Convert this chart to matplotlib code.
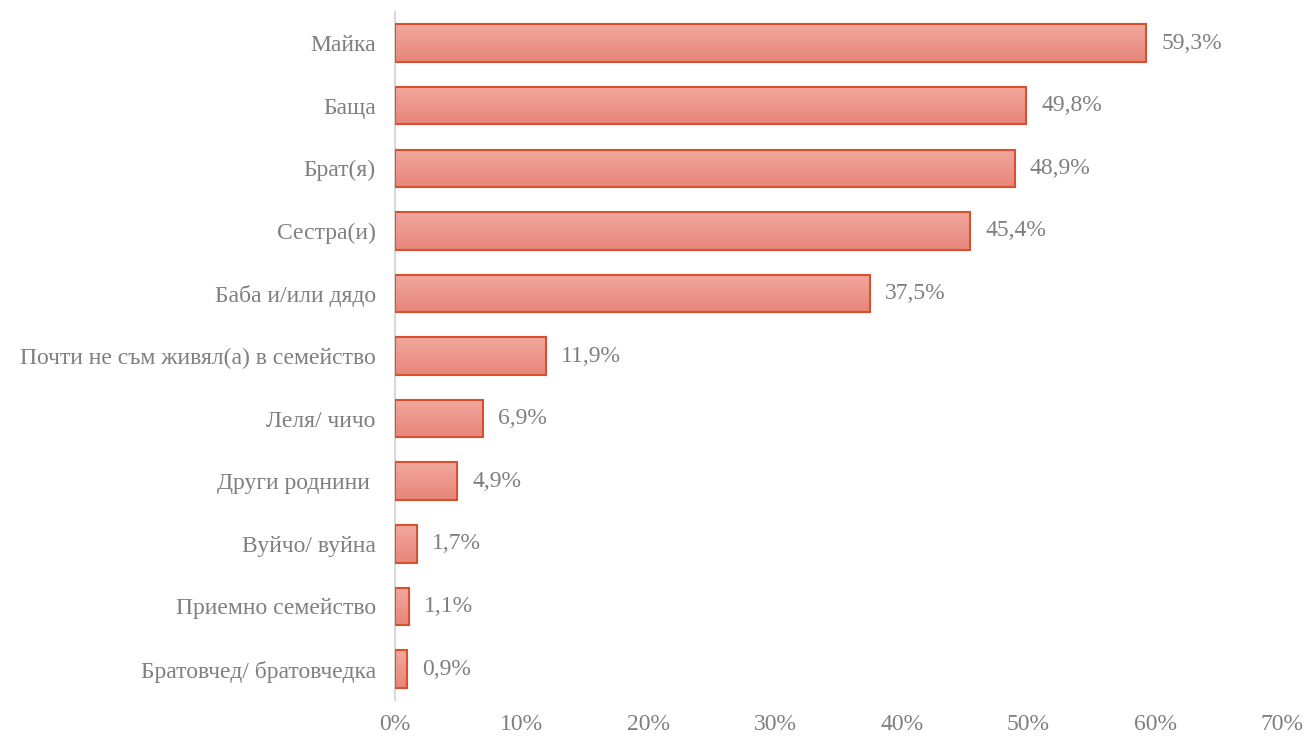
import numpy as np
import matplotlib.pyplot as plt
from matplotlib.colors import LinearSegmentedColormap

categories = ['Майка', 'Баща', 'Брат(я)', 'Сестра(и)', 'Баба и/или дядо',
              'Почти не съм живял(а) в семейство', 'Леля/ чичо', 'Други роднини ',
              'Вуйчо/ вуйна', 'Приемно семейство', 'Братовчед/ братовчедка']
values = [59.3, 49.8, 48.9, 45.4, 37.5, 11.9, 6.9, 4.9, 1.7, 1.1, 0.9]
xticks = [0, 10, 20, 30, 40, 50, 60, 70]

plt.rcParams['font.family'] = ['Liberation Serif', 'DejaVu Serif']
grey = '#7f7f7f'

fig = plt.figure(figsize=(13.04, 7.38), dpi=100)
ax = fig.add_axes([0.303, 0.051, 0.68, 0.933])

cmap = LinearSegmentedColormap.from_list('g', ['#e8857a', '#f2a89d'])
grad = np.linspace(0, 1, 64).reshape(-1, 1)
h = 0.6
n = len(categories)
ys = np.arange(n)[::-1]
for y, v in zip(ys, values):
    ax.imshow(grad, cmap=cmap, aspect='auto', origin='lower',
              extent=[0, v, y - h / 2, y + h / 2], zorder=2)
    ax.barh(y, v, height=h, facecolor='none', edgecolor='#d9502c', linewidth=1.5, zorder=3)
    ax.text(v + 1.2, y, f'{v:.1f}%'.replace('.', ','), va='center', ha='left',
            fontsize=17, color=grey)

ax.set_xlim(0, 70)
ax.set_ylim(-0.5, n - 0.5)
ax.set_yticks(ys)
ax.set_yticklabels(categories, fontsize=17, color=grey)
ax.set_xticks(xticks)
ax.set_xticklabels([f'{t}%' for t in xticks], fontsize=17, color=grey)
ax.tick_params(length=0)
ax.tick_params(axis='y', pad=14)
ax.tick_params(axis='x', pad=10)
for s in ['top', 'right', 'bottom']:
    ax.spines[s].set_visible(False)
ax.spines['left'].set_color('#d9d9d9')
ax.spines['left'].set_linewidth(1.5)

fig.savefig('out.png', dpi=100)
